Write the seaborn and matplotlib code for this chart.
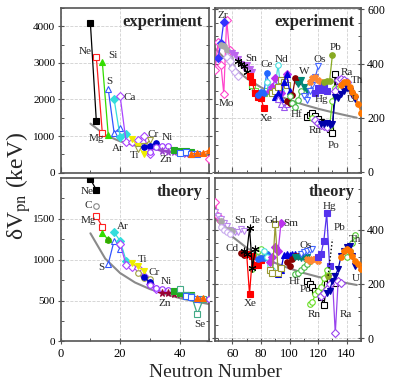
import matplotlib
matplotlib.use("Agg")
import matplotlib.pyplot as plt
from matplotlib.ticker import MultipleLocator, FixedLocator
import seaborn as sns

sns.set_theme(style="white")
plt.rcParams['font.family'] = ['Liberation Serif', 'DejaVu Serif']
plt.rcParams['mathtext.fontset'] = 'stix'

# ---------------- styles (colour, marker, filled) ----------------
STY = {
    'Ne': ('#000000', 's', True), 'C': ('#888888', 'o', False),
    'Mg': ('#ff2020', 's', False), 'Si': ('#33dd00', '^', True),
    'Si2': ('#33aa00', 'o', True), 'S': ('#3355ff', '^', False),
    'Ar': ('#33dddd', 'D', True), 'Ca': ('#aa44ff', 'D', False),
    'Ti': ('#eeee00', 'v', True), 'Cr': ('#a0a040', 'v', False),
    'Cr2': ('#a0a040', 'o', False), 'Fe': ('#0000cc', 'o', True),
    'Ni': ('#9933ff', 'o', False), 'Zn': ('#9944cc', '*', True),
    'Zn2': ('#990033', '*', True), 'Ge': ('#22aa22', 's', True),
    'Se': ('#44aa88', 's', False), 'Kr': ('#3366ff', 's', False),
    'Sr': ('#ff6600', '^', True), 'Zr': ('#3333ff', 'D', True),
    'Mo': ('#ff44cc', 'D', False), 'Ru': ('#aaaaaa', 'o', True),
    'Pd': ('#c8aaee', 'D', False), 'Pd2': ('#c8aaee', 'o', False),
    'Cd': ('#bb66ee', 'v', True), 'Cdo': ('#bb88ee', 'v', False),
    'Cdr': ('#880000', 'o', True), 'Sn': ('#000000', (6, 2, 0), True),
    'Xe': ('#ff0000', 's', True), 'Ba': ('#66dd44', 's', False),
    'Bao': ('#66dd44', 'o', False), 'Ce': ('#2266ff', 'o', True),
    'Nd': ('#44dddd', 'o', False), 'Sm': ('#bb33ee', 'D', True),
    'Gd': ('#999933', 's', False), 'Dy': ('#0000dd', '^', True),
    'Er': ('#9955ee', '^', False), 'Yb': ('#880000', 'o', True),
    'Hf': ('#44bb44', 'o', False), 'W': ('#008877', 'v', True),
    'Os': ('#4466ff', 'v', False), 'Pt': ('#ff8833', 'X', True),
    'Hg': ('#5533ee', 's', True), 'Pb': ('#88aa22', 'o', True),
    'Rn': ('#000000', 's', False), 'Po': ('#66dd22', 'o', False),
    'Ra': ('#9944ee', 'D', False), 'Ram': ('#dd44dd', 's', True),
    'Th': ('#0000aa', 'v', True), 'U': ('#ff7700', 'o', True),
    'ThG': ('#55cc33', 'o', False),
}

# ---------------- experiment, light (N, dVpn keV) ----------------
EL_Ne = ([10, 12], [4080, 1400])
EL_Mg = ([12, 14], [3150, 1090])
EL_Si = ([14, 16], [3030, 1030])
EL_S = ([16, 18, 20], [2280, 1080, 1230])
EL_Ar = ([18, 20, 22], [2000, 980, 1060])
EL_Ca = ([20, 22, 24, 26, 28, 30], [2090, 850, 830, 880, 1010, 510])
EL_Ti = ([24, 26, 28], [920, 720, 510])
EL_Cr = ([26, 28, 30], [660, 720, 880])
EL_Fe = ([28, 30, 32], [700, 740, 810])
EL_Ni = ([30, 32, 34, 36, 38], [560, 700, 740, 730, 620])
EL_Zn = ([34, 36, 38, 40, 42], [600, 560, 570, 540, 520])
EL_Ge = ([38, 40, 42, 44], [620, 600, 580, 570])
EL_Kr = ([40, 42, 44, 46], [540, 560, 500, 520])
EL_Sr = ([44, 46, 48, 50], [520, 530, 545, 620])
EL_Mo = ([50], [370])
EL_CURVE_N = [10, 15, 20, 25, 30, 35, 40, 45, 50]
EL_CURVE_V = [1340, 1030, 857, 742, 661, 600, 551, 512, 477]
EL_LAB = ['Ne', 'Si', 'S', 'Ca', 'Mg', 'Ar', 'Ti', 'Cr', 'Ni', 'Zn']
EL_LAB_N = [8.1, 17.6, 16.3, 23.3, 12.0, 19.3, 25.0, 31.1, 36.0, 35.3]
EL_LAB_V = [3300, 3190, 2500, 2050, 945, 670, 460, 1037, 963, 367]

# ---------------- experiment, heavy ----------------
EH_Zr = ([50, 52, 54], [420, 475, 555])
EH_Mo = ([48, 50, 52, 54, 56, 58], [376, 481, 395, 288, 561, 450])
EH_Ru = ([52, 54, 56, 58, 60], [470, 465, 450, 420, 390])
EH_Pd = ([56, 58, 60, 62, 64], [425, 410, 385, 370, 355])
EH_Cd = ([60, 62, 64, 66, 68, 70, 72, 74], [440, 430, 415, 400, 385, 395, 380, 370])
EH_Sn = ([64, 66, 68, 70, 72, 74], [410, 400, 389, 367, 349, 312])
EH_Xe = ([72, 74, 76, 78, 80, 82], [354, 330, 290, 278, 272, 235])
EH_Ba = ([74, 76, 78, 80, 82, 84], [320, 300, 285, 283, 290, 300])
EH_Ce = ([78, 80, 82, 84, 86], [285, 296, 290, 364, 310])
EH_Nd = ([84, 86, 88, 90, 92, 94], [333, 315, 300, 320, 395, 300])
EH_Sm = ([86, 88, 90, 92, 94, 96, 98], [300, 315, 345, 300, 290, 340, 360])
EH_Gd = ([88, 90, 92, 94, 96, 98], [290, 300, 315, 340, 330, 320])
EH_Dy = ([90, 92, 94, 96, 98, 100], [275, 290, 270, 330, 360, 300])
EH_Er = ([92, 94, 96, 98, 100], [270, 250, 240, 250, 265])
EH_Yb = ([98, 100, 102, 104, 106], [260, 253, 284, 346, 333])
EH_Hf = ([100, 102, 104, 106, 108], [280, 255, 240, 266, 300])
EH_W = ([106, 108, 110, 112], [325, 340, 315, 300])
EH_Os = ([110, 112, 114, 116, 118, 120], [280, 266, 300, 320, 350, 389])
EH_Pt = ([114, 116, 118, 120, 122], [330, 346, 352, 340, 330])
EH_Hg = ([118, 120, 122, 124, 126], [290, 309, 303, 321, 300])
EH_Pb = ([124, 126, 128, 130], [330, 336, 336, 432])
EH_Rn = ([112, 114, 116, 118, 120, 122, 124, 126, 128, 130, 132, 134],
         [202, 210, 216, 205, 195, 185, 180, 170, 160, 143, 360, 335])
EH_Po = ([116, 118, 120, 122, 124, 126, 128, 130, 132],
         [200, 190, 182, 175, 170, 165, 170, 260, 310])
EH_RaL = ([118, 120, 122, 124, 126], [190, 180, 172, 168, 165])
EH_Ra = ([132, 134, 136, 138, 140], [300, 340, 342, 340, 333])
EH_Th = ([122, 124, 126, 128, 130, 132, 134, 136, 138, 140, 142, 144, 146],
         [178, 175, 180, 173, 177, 278, 272, 287, 300, 309, 300, 285, 270])
EH_U = ([136, 138, 140, 142, 144, 146, 148, 150], [320, 330, 333, 312, 296, 280, 250, 218])
EH_CURVE_N = [48, 60, 70, 80, 90, 100, 110, 120, 130, 140, 147]
EH_CURVE_V = [455, 389, 345, 312, 286, 265, 248, 233, 220, 208, 200]
EH_LAB = ['Zr', 'Mo', 'Sn', 'Ce', 'Nd', 'W', 'Os', 'Pb', 'Ra', 'Th',
          'Hg', 'U', 'Hf', 'Xe', 'Rn', 'Po']
EH_LAB_N = [53.2, 55.6, 73.5, 84.0, 94.5, 110.1, 120.8, 132.5, 140.0, 147.4,
            122.5, 143.0, 105.0, 84.0, 117.8, 131.1]
EH_LAB_V = [579, 253, 419, 395, 416, 370, 413, 459, 367, 339,
            269, 269, 210, 198, 153, 97]

# ---------------- theory, light ----------------
TL_Ne = ([10, 12], [1980, 1850])
TL_C = ([12], [1655])
TL_Mg = ([12, 14], [1530, 1400])
TL_Si = ([14, 16], [1320, 1245])
TL_Si2 = ([16], [1240])
TL_S = ([16, 18, 20], [947, 1232, 1126])
TL_Ar = ([18, 20, 22], [1330, 1228, 988])
TL_Ca = ([20, 22, 24, 26, 28, 30, 32], [1191, 935, 907, 894, 793, 703, 638])
TL_Ti = ([24, 26, 28], [955, 915, 860])
TL_Cr = ([26, 28, 30], [833, 772, 760])
TL_Fe = ([28, 30], [790, 720])
TL_Ni = ([30, 32, 34, 36], [690, 650, 640, 630])
TL_Zn = ([34, 36, 38, 40], [590, 590, 580, 580])
TL_Ge = ([38, 40, 42, 44], [610, 590, 570, 570])
TL_Se = ([40, 42, 44, 46, 48], [638, 569, 557, 333, 520])
TL_Kr = ([42, 44, 46], [560, 540, 520])
TL_Sr = ([46, 48], [535, 525])
TL_Zr = ([50], [515])
TL_CURVE_N = [10, 15, 20, 25, 30, 35, 40, 45, 50]
TL_CURVE_V = [1320, 1010, 835, 720, 640, 580, 530, 491, 456]
TL_LAB = ['Ne', 'C', 'Mg', 'Ar', 'S', 'Ti', 'Cr', 'Ni', 'Zn', 'Se']
TL_LAB_N = [8.9, 9.2, 9.2, 20.8, 13.7, 27.4, 31.4, 35.7, 35.1, 46.7]
TL_LAB_V = [1829, 1659, 1476, 1402, 907, 1004, 846, 732, 467, 203]

# ---------------- theory, heavy ----------------
TH_Mo = ([48, 50, 52], [500, 451, 430])
TH_Cdo = ([48, 50, 52, 54, 56, 58, 60, 62, 64, 66, 68],
          [463, 450, 440, 425, 414, 400, 396, 392, 392, 402, 395])
TH_Ru = ([52, 54, 56, 58, 60], [430, 402, 400, 398, 395])
TH_Pd = ([52, 54, 56, 58], [410, 400, 390, 385])
TH_Cd = ([66, 68, 70], [315, 306, 310])
TH_Sn = ([68, 70, 72, 74, 76], [320, 310, 405, 260, 328])
TH_Xe = ([70, 72, 74, 76, 78, 80], [310, 162, 301, 270, 270, 289])
TH_Ba = ([74, 76, 78, 80, 82, 84], [255, 289, 322, 328, 300, 310])
TH_Ce = ([78, 80, 82, 84, 86], [291, 297, 294, 310, 290])
TH_Nd = ([82, 84, 86, 88], [320, 300, 270, 250])
TH_Sm = ([86, 88, 90, 92, 94], [279, 300, 335, 320, 423])
TH_Gd = ([86, 88, 90, 92, 94], [250, 242, 421, 242, 260])
TH_Dy = ([92, 94, 96, 98, 100, 102, 104], [236, 252, 306, 310, 305, 310, 310])
TH_Yb = ([98, 100, 102, 104, 106, 108], [280, 267, 291, 304, 301, 305])
TH_W = ([104, 106, 108, 110, 112], [300, 300, 295, 295, 300])
TH_Hf = ([104, 106, 108, 110, 112, 114], [236, 242, 250, 261, 273, 285])
TH_Os = ([108, 110, 112, 114, 116], [310, 316, 322, 325, 328])
TH_Pt = ([112, 114, 116, 118, 120], [291, 285, 291, 290, 285])
TH_Hg = ([120, 122, 124, 126, 128], [300, 310, 359, 460, 267])
TH_Pb = ([127], [230])
TH_PbDot = ([127, 130], [230, 365])
TH_Po = ([112, 114, 116, 118, 120, 122, 124, 126, 128, 130, 132],
         [212, 199, 187, 175, 165, 150, 122, 200, 210, 230, 205])
TH_Rn = ([114, 116, 118, 120, 122, 124, 126, 128], [125, 132, 162, 175, 190, 220, 250, 230])
TH_Ra = ([122, 124, 126, 128, 130, 132, 134, 136], [156, 168, 181, 200, 220, 18, 210, 205])
TH_Th = ([126, 128, 130, 132, 134, 136, 138, 140, 142, 144, 146],
         [168, 175, 212, 230, 255, 301, 320, 335, 338, 304, 267])
TH_U = ([136, 138, 140, 142, 144, 146, 148, 150], [300, 320, 328, 320, 301, 285, 273, 255])
TH_ThG = ([140, 142, 144, 146], [300, 320, 350, 380])
TH_CURVE_N = [48, 60, 70, 80, 90, 100, 110, 120, 130, 140, 147]
TH_CURVE_V = [440, 374, 333, 302, 277, 257, 240, 226, 214, 203, 196]
TH_LAB = ['Sn', 'Te', 'Gd', 'Sm', 'Cd', 'Xe', 'Hf', 'Os', 'Po', 'Hg', 'Pb',
          'Th', 'U', 'Rn', 'Ra']
TH_LAB_N = [65.4, 75.9, 87.0, 100.8, 60.0, 72.8, 103.4, 111.5, 111.5, 127.8,
            134.8, 145.8, 146.5, 117.3, 139.5]
TH_LAB_V = [433, 433, 433, 424, 331, 129, 208, 343, 178, 486, 408, 365, 220, 89, 89]

# axis tick values
TICKS_X_LEFT = [0, 20, 40]
TICKS_X_RIGHT = [60, 80, 100, 120, 140]
TICKS_Y_EL = [0, 1000, 2000, 3000, 4000]
TICKS_Y_TL = [0, 500, 1000, 1500]
TICKS_Y_EH = [0, 200, 400, 600]
TICKS_Y_TH = [0, 200, 400]

PANEL_EL = [('Ne', EL_Ne), ('Mg', EL_Mg), ('Si', EL_Si), ('S', EL_S), ('Ar', EL_Ar),
            ('Ca', EL_Ca), ('Ti', EL_Ti), ('Cr', EL_Cr), ('Fe', EL_Fe), ('Ni', EL_Ni),
            ('Zn', EL_Zn), ('Ge', EL_Ge), ('Kr', EL_Kr), ('Sr', EL_Sr), ('Mo', EL_Mo)]
PANEL_EH = [('Mo', EH_Mo), ('Zr', EH_Zr), ('Ru', EH_Ru), ('Pd', EH_Pd), ('Cd', EH_Cd),
            ('Sn', EH_Sn), ('Ba', EH_Ba), ('Xe', EH_Xe), ('Ce', EH_Ce), ('Nd', EH_Nd),
            ('Sm', EH_Sm), ('Gd', EH_Gd), ('Dy', EH_Dy), ('Er', EH_Er), ('Yb', EH_Yb),
            ('Hf', EH_Hf), ('W', EH_W), ('Os', EH_Os), ('Pt', EH_Pt), ('Hg', EH_Hg),
            ('Pb', EH_Pb), ('Rn', EH_Rn), ('Po', EH_Po), ('Ra', EH_RaL), ('Ra', EH_Ra),
            ('Th', EH_Th), ('U', EH_U)]
PANEL_TL = [('Ne', TL_Ne), ('C', TL_C), ('Mg', TL_Mg), ('Si', TL_Si), ('Si2', TL_Si2),
            ('S', TL_S), ('Ar', TL_Ar), ('Ca', TL_Ca), ('Ti', TL_Ti), ('Cr2', TL_Cr),
            ('Fe', TL_Fe), ('Ni', TL_Ni), ('Zn2', TL_Zn), ('Ge', TL_Ge), ('Se', TL_Se),
            ('Kr', TL_Kr), ('Sr', TL_Sr), ('Ni', TL_Zr)]
PANEL_TH = [('Mo', TH_Mo), ('Cdo', TH_Cdo), ('Ru', TH_Ru), ('Pd2', TH_Pd), ('Cdr', TH_Cd),
            ('Bao', TH_Ba), ('Xe', TH_Xe), ('Sn', TH_Sn), ('Ce', TH_Ce), ('Nd', TH_Nd),
            ('Dy', TH_Dy), ('Sm', TH_Sm), ('Gd', TH_Gd), ('Yb', TH_Yb), ('W', TH_W),
            ('Hf', TH_Hf), ('Os', TH_Os), ('Pt', TH_Pt), ('Hg', TH_Hg), ('Rn', TH_Po),
            ('Po', TH_Rn), ('Ra', TH_Ra), ('ThG', TH_ThG), ('Th', TH_Th), ('U', TH_U),
            ('Pb', TH_Pb)]

SPINE = '#555555'


def draw_series(ax, style, data):
    col, mk, filled = STY[style]
    ms = 5.5 if mk in ('*', (6, 2, 0)) else 4.0
    sns.lineplot(x=data[0], y=data[1], ax=ax, color=col, marker=mk,
                 markersize=ms, markerfacecolor=col if filled else 'white',
                 markeredgecolor=col, markeredgewidth=0.8, linewidth=0.9,
                 sort=False, estimator=None, legend=False, zorder=3)


def setup(ax, xlim, ylim, xticks, xmin, yticks, ymin, side, show_x):
    ax.set_xlim(*xlim)
    ax.set_ylim(*ylim)
    ax.xaxis.set_major_locator(FixedLocator(xticks))
    ax.xaxis.set_minor_locator(MultipleLocator(xmin))
    ax.yaxis.set_major_locator(FixedLocator(yticks))
    ax.yaxis.set_minor_locator(MultipleLocator(ymin))
    ax.set_xticklabels([str(t) for t in xticks])
    ax.set_yticklabels([str(t) for t in yticks])
    ax.grid(True, which='major', ls='--', color='#d0d0d0', lw=0.6, zorder=0)
    ax.set_axisbelow(True)
    for s in ax.spines.values():
        s.set_color(SPINE)
        s.set_linewidth(1.2)
    ax.tick_params(which='both', direction='in', bottom=True, top=False,
                   left=True, right=True, color=SPINE, labelcolor='black')
    ax.tick_params(which='major', length=4, width=0.8)
    ax.tick_params(which='minor', length=2.5, width=0.7)
    if side == 'left':
        ax.tick_params(axis='y', which='major', direction='inout', length=5,
                       labelleft=True, labelright=False, labelsize=8, pad=1.5)
    else:
        ax.tick_params(axis='y', which='major', direction='inout', length=5,
                       labelleft=False, labelright=True, labelsize=8.5, pad=2)
    if show_x:
        ax.tick_params(axis='x', which='major', direction='inout', length=5,
                       labelbottom=True, labelsize=9, pad=2)
    else:
        ax.tick_params(axis='x', labelbottom=False)
    ax.set_xlabel('')
    ax.set_ylabel('')


fig = plt.figure(figsize=(3.99, 3.84), dpi=100)
ax_el = fig.add_axes([0.1521, 0.5503, 0.3724, 0.4289])
ax_eh = fig.add_axes([0.5376, 0.5503, 0.3672, 0.4289])
ax_tl = fig.add_axes([0.1521, 0.1107, 0.3724, 0.4258])
ax_th = fig.add_axes([0.5376, 0.1107, 0.3672, 0.4258])

panels = [
    (ax_el, PANEL_EL, EL_CURVE_N, EL_CURVE_V, EL_LAB, EL_LAB_N, EL_LAB_V, 'experiment'),
    (ax_eh, PANEL_EH, EH_CURVE_N, EH_CURVE_V, EH_LAB, EH_LAB_N, EH_LAB_V, 'experiment'),
    (ax_tl, PANEL_TL, TL_CURVE_N, TL_CURVE_V, TL_LAB, TL_LAB_N, TL_LAB_V, 'theory'),
    (ax_th, PANEL_TH, TH_CURVE_N, TH_CURVE_V, TH_LAB, TH_LAB_N, TH_LAB_V, 'theory'),
]

for ax, series, cn, cv, labs, ln, lv, title in panels:
    sns.lineplot(x=cn, y=cv, ax=ax, color='#8a8a8a', linewidth=1.5,
                 sort=False, estimator=None, legend=False, zorder=2)
    for style, data in series:
        draw_series(ax, style, data)
    for t, x, y in zip(labs, ln, lv):
        ax.text(x, y, t, fontsize=8, ha='center', va='center', zorder=5)
    ax.text(0.955, 0.965, title, transform=ax.transAxes, ha='right', va='top',
            fontsize=12, fontweight='bold', zorder=6)

sns.lineplot(x=TH_PbDot[0], y=TH_PbDot[1], ax=ax_th, color='black', linewidth=1.0,
             linestyle=':', sort=False, estimator=None, legend=False, zorder=3)

setup(ax_el, (0, 50), (0, 4500), TICKS_X_LEFT, 10, TICKS_Y_EL, 500, 'left', False)
setup(ax_eh, (47.5, 150), (-3, 605), TICKS_X_RIGHT, 10, TICKS_Y_EH, 50, 'right', False)
setup(ax_tl, (0, 50), (0, 1995), TICKS_X_LEFT, 10, TICKS_Y_TL, 250, 'left', True)
setup(ax_th, (47.5, 150), (-12, 590), TICKS_X_RIGHT, 10, TICKS_Y_TH, 50, 'right', True)

fig.text(0.047, 0.515, 'δV$_{\\mathrm{pn}}$ (keV)', rotation=90, ha='center',
         va='center', fontsize=17)
fig.text(0.541, 0.03, 'Neutron Number', ha='center', va='center', fontsize=14)

fig.savefig('out.png', dpi=100)
